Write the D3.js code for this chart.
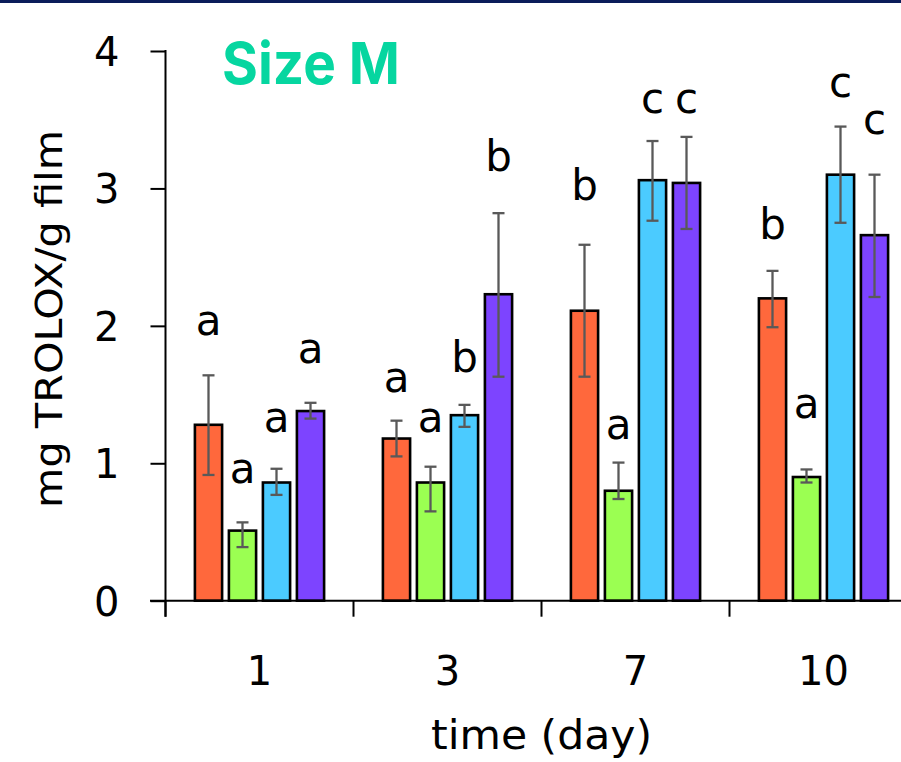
<!DOCTYPE html>
<html>
<head>
<meta charset="utf-8">
<script src="https://cdn.jsdelivr.net/npm/d3@7"></script>
<style>
  html, body { margin: 0; padding: 0; background: #fff; }
  svg { display: block; }
  text { font-family: "DejaVu Sans", sans-serif; fill: #000; }
</style>
</head>
<body>
<svg id="chart" width="901" height="762"></svg>
<script>
// ---- data ----
const days = ["1", "3", "7", "10"];
const series = ["s1", "s2", "s3", "s4"];
const seriesColors = ["#FF683C", "#9BFF52", "#4BCBFF", "#7D44FF"];
// bar values per day (series order s1..s4)
const values = [
  [1.28, 0.51, 0.86, 1.38],
  [1.18, 0.86, 1.35, 2.23],
  [2.11, 0.80, 3.06, 3.04],
  [2.20, 0.90, 3.10, 2.66]
];
// error bar upper / lower limits
const errHigh = [
  [1.64, 0.57, 0.96, 1.44],
  [1.31, 0.975, 1.425, 2.82],
  [2.59, 1.005, 3.345, 3.375],
  [2.40, 0.955, 3.45, 3.10]
];
const errLow = [
  [0.915, 0.39, 0.77, 1.325],
  [1.05, 0.65, 1.265, 1.63],
  [1.63, 0.74, 2.765, 2.705],
  [1.99, 0.86, 2.75, 2.21]
];
// significance letters and the value level of their baseline
const letters = [
  ["a", "a", "a", "a"],
  ["a", "a", "b", "b"],
  ["b", "a", "c", "c"],
  ["b", "a", "c", "c"]
];
const letterAt = [
  [1.934, 0.859, 1.230, 1.728],
  [1.517, 1.230, 1.667, 3.130],
  [2.913, 1.177, 3.547, 3.547],
  [2.632, 1.333, 3.668, 3.397]
];
const yTicks = [0, 1, 2, 3, 4];
const titleText = "Size M";
const xTitle = "time (day)";
const yTitle = "mg TROLOX/g film";

// ---- layout ----
const svg = d3.select("#chart");
const x0 = 165.5, bandW = 188;
const x = d3.scaleBand().domain(days).range([x0, x0 + bandW * days.length]).padding(0);
const xs = d3.scaleBand().domain(series).range([-68, 68]).paddingInner(0.2).paddingOuter(0.1);
const y = d3.scaleLinear().domain([0, 4]).range([600.7, 51]);

// top border
svg.append("rect").attr("x", 0).attr("y", 0).attr("width", 901).attr("height", 3).attr("fill", "#0B1D5A");

// title
svg.append("text").attr("x", 222).attr("y", 84)
  .style("font-family", "Inter, sans-serif")
  .attr("font-weight", "bold").attr("font-size", 58)
  .attr("textLength", 178).attr("lengthAdjust", "spacingAndGlyphs")
  .style("fill", "#06D6A0").text(titleText);

// bars
const rows = days.map((d, i) => series.map((s, j) => ({
  day: d, s, j, v: values[i][j], hi: errHigh[i][j], lo: errLow[i][j],
  letter: letters[i][j], la: letterAt[i][j]
}))).flat();

const g = svg.append("g");
g.selectAll("rect.bar").data(rows).join("rect")
  .attr("class", "bar")
  .attr("x", d => x(d.day) + x.bandwidth() / 2 + xs(d.s))
  .attr("y", d => y(d.v))
  .attr("width", xs.bandwidth())
  .attr("height", d => y(0) - y(d.v))
  .attr("fill", d => seriesColors[d.j])
  .attr("stroke", "#000").attr("stroke-width", 2.6);

// error bars
const cx = d => x(d.day) + x.bandwidth() / 2 + xs(d.s) + xs.bandwidth() / 2;
const eg = g.selectAll("g.err").data(rows).join("g").attr("class", "err")
  .attr("stroke", "#595959").attr("stroke-width", 2.3);
eg.append("line").attr("x1", cx).attr("x2", cx).attr("y1", d => y(d.hi)).attr("y2", d => y(d.lo));
eg.append("line").attr("x1", d => cx(d) - 6).attr("x2", d => cx(d) + 6).attr("y1", d => y(d.hi)).attr("y2", d => y(d.hi));
eg.append("line").attr("x1", d => cx(d) - 6).attr("x2", d => cx(d) + 6).attr("y1", d => y(d.lo)).attr("y2", d => y(d.lo));

// letters
g.selectAll("text.letter").data(rows).join("text")
  .attr("class", "letter")
  .attr("x", cx).attr("y", d => y(d.la))
  .attr("text-anchor", "middle").attr("font-size", 42)
  .text(d => d.letter);

// y axis
const yAxis = svg.append("g").attr("transform", `translate(${x0},0)`)
  .call(d3.axisLeft(y).tickValues(yTicks).tickFormat(d3.format("d")).tickSize(15).tickPadding(31));
yAxis.select(".domain").remove();
yAxis.selectAll(".tick line").attr("stroke", "#000").attr("stroke-width", 2);
yAxis.selectAll(".tick text").attr("font-size", 40).attr("font-family", "DejaVu Sans, sans-serif").attr("dy", "0.36em");
svg.append("line").attr("x1", x0).attr("x2", x0).attr("y1", y(4) - 1).attr("y2", y(0) + 16)
  .attr("stroke", "#000").attr("stroke-width", 2);

// x axis
svg.append("line").attr("x1", 150).attr("x2", 901).attr("y1", y(0)).attr("y2", y(0))
  .attr("stroke", "#000").attr("stroke-width", 2);
const xAxis = svg.append("g").attr("transform", `translate(0,${y(0)})`)
  .call(d3.axisBottom(x).tickSize(0).tickPadding(84));
xAxis.select(".domain").remove();
xAxis.selectAll(".tick text").attr("font-size", 40).attr("font-family", "DejaVu Sans, sans-serif").attr("dy", "0");
svg.selectAll("line.xb").data(days).join("line").attr("class", "xb")
  .attr("x1", d => x(d)).attr("x2", d => x(d))
  .attr("y1", y(0)).attr("y2", y(0) + 16)
  .attr("stroke", "#000").attr("stroke-width", 2);

// axis titles
svg.append("text").attr("x", 541.5).attr("y", 749).attr("text-anchor", "middle")
  .attr("font-size", 40).attr("textLength", 221).attr("lengthAdjust", "spacingAndGlyphs").text(xTitle);
svg.append("text").attr("transform", "translate(62,319) rotate(-90)").attr("text-anchor", "middle")
  .attr("font-size", 38).attr("textLength", 378).attr("lengthAdjust", "spacingAndGlyphs").text(yTitle);
</script>
</body>
</html>
